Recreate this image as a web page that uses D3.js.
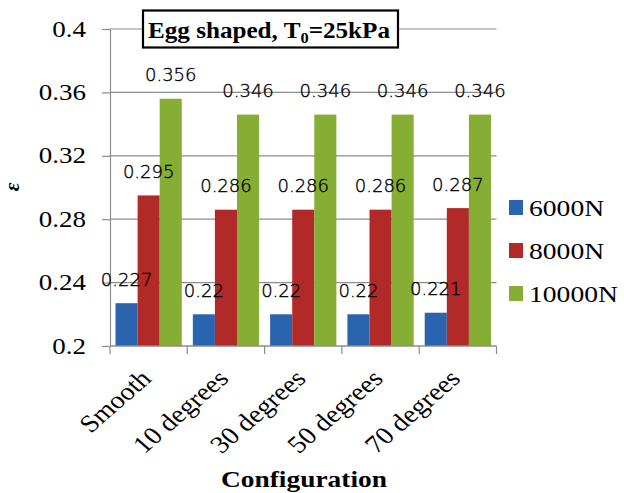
<!DOCTYPE html>
<html><head><meta charset="utf-8">
<script src="https://cdn.jsdelivr.net/npm/d3@7"></script>
<style>body{margin:0;background:#fff}svg{display:block}
.serif{font-family:"Liberation Serif","Times New Roman",Times,serif}
.lab{font-family:"DejaVu Sans",sans-serif}
</style>
</head><body>
<svg id="c" width="624" height="493"></svg>
<script>
const categories = ["Smooth","10 degrees","30 degrees","50 degrees","70 degrees"];
const seriesNames = ["6000N","8000N","10000N"];
const s6000 = [0.227,0.22,0.22,0.22,0.221];
const s8000 = [0.295,0.286,0.286,0.286,0.287];
const s10000 = [0.356,0.346,0.346,0.346,0.346];
const yTicks = [0.2,0.24,0.28,0.32,0.36,0.4];
const colors = ["#2a63ae","#b22a28","#86ad34"];
const series = [s6000,s8000,s10000];
const SX = 1.2;

const svg = d3.select("#c");
const L=110,R=496.5,T=29,B=346;
const x = d3.scaleBand().domain(categories).range([L,R]);
const y = d3.scaleLinear().domain([0.2,0.4]).range([B,T]);
const xs = d3.scaleBand().domain(seriesNames).range([0,x.bandwidth()]).paddingOuter(0.25);

// gridlines
svg.append("g").selectAll("line").data(yTicks.slice(1)).join("line")
  .attr("x1",L).attr("x2",R).attr("y1",d=>y(d)).attr("y2",d=>y(d))
  .attr("stroke","#8c8c8c").attr("stroke-width",1.2);

// y axis
const ya = svg.append("g").attr("transform",`translate(${L},0)`)
  .call(d3.axisLeft(y).tickValues(yTicks).tickSize(8).tickFormat(""));
ya.select(".domain").attr("stroke","#8c8c8c").attr("stroke-width",1.2);
ya.selectAll(".tick line").attr("stroke","#8c8c8c").attr("stroke-width",1.2);
svg.append("g").selectAll("text").data(yTicks).join("text")
  .attr("class","serif")
  .attr("transform",d=>`translate(86,${y(d)+7.5}) scale(${SX},1)`)
  .attr("text-anchor","end").attr("font-size",22.5).attr("fill","#000")
  .text(d=>String(+d.toFixed(2)));

// bars
const g = svg.append("g");
series.forEach((vals,si)=>{
  g.append("g").selectAll("rect").data(vals).join("rect")
    .attr("x",(d,i)=>x(categories[i])+xs(seriesNames[si]))
    .attr("width",xs.bandwidth())
    .attr("y",d=>y(d)).attr("height",d=>B-y(d))
    .attr("fill",colors[si]);
});
// data labels on top
series.forEach((vals,si)=>{
  g.append("g").selectAll("text").data(vals).join("text")
    .attr("class","lab")
    .attr("transform",(d,i)=>`translate(${x(categories[i])+xs(seriesNames[si])+xs.bandwidth()/2},${y(d)-17.5})`)
    .attr("text-anchor","middle")
    .attr("font-size",18).attr("font-weight",200)
    .attr("fill","#000").attr("stroke","#000").attr("stroke-width",0.35)
    .text(d=>String(d));
});

// x axis
const xa = svg.append("g").attr("transform",`translate(0,${B})`);
xa.append("line").attr("x1",L).attr("x2",R).attr("stroke","#8c8c8c").attr("stroke-width",1.5);
const bounds = d3.range(categories.length+1).map(i=>L+i*x.bandwidth());
xa.selectAll(".tk").data(bounds).join("line").attr("class","tk")
  .attr("x1",d=>d).attr("x2",d=>d).attr("y1",0).attr("y2",8)
  .attr("stroke","#8c8c8c").attr("stroke-width",1.2);
xa.selectAll(".xl").data(categories).join("text").attr("class","xl serif")
  .attr("transform",d=>`translate(${x(d)+x.bandwidth()/2+4},${34}) scale(1.15,1) rotate(-45)`)
  .attr("text-anchor","end")
  .attr("font-size",24.5).attr("fill","#000")
  .text(d=>d);

svg.append("text").attr("class","serif").attr("x",304).attr("y",487).attr("text-anchor","middle")
  .attr("font-weight","bold").attr("font-size",23)
  .attr("textLength",166).attr("lengthAdjust","spacingAndGlyphs")
  .text("Configuration");

svg.append("text").attr("class","serif").attr("transform","translate(19,187) rotate(-90)").attr("text-anchor","middle")
  .attr("font-weight","bold").attr("font-style","italic").attr("font-size",21)
  .text("ε");

// title box
svg.append("rect").attr("x",143).attr("y",10.5).attr("width",255).attr("height",37)
  .attr("fill","#fff").attr("stroke","#000").attr("stroke-width",2.2);
const tt = svg.append("text").attr("class","serif").attr("x",148).attr("y",37.5)
  .attr("font-weight","bold").attr("font-size",23)
  .attr("textLength",242).attr("lengthAdjust","spacingAndGlyphs");
tt.append("tspan").text("Egg shaped, T");
tt.append("tspan").attr("dy",5).attr("font-size",15).text("0");
tt.append("tspan").attr("dy",-5).text("=25kPa");

// legend
const lg = svg.append("g");
seriesNames.forEach((n,i)=>{
  const cy = 207.5+i*43;
  lg.append("rect").attr("x",509).attr("y",cy-7.5).attr("width",14).attr("height",15).attr("fill",colors[i]);
  lg.append("text").attr("class","serif").attr("transform",`translate(529,${cy+8.5}) scale(1.15,1)`)
    .attr("font-size",24).attr("fill","#000").text(n);
});
</script>
</body></html>
